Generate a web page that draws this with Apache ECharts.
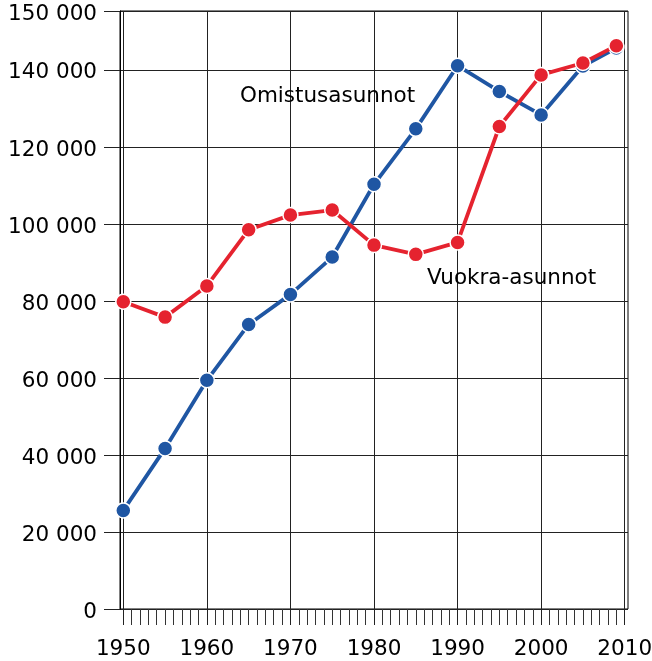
<!DOCTYPE html>
<html>
<head>
<meta charset="utf-8">
<script src="https://cdn.jsdelivr.net/npm/echarts@6/dist/echarts.min.js"></script>
<style>
html,body{margin:0;padding:0;background:#fff;}
#chart{width:652px;height:661px;}
</style>
</head>
<body>
<div id="chart"></div>
<script>
const years = [1950, 1955, 1960, 1965, 1970, 1975, 1980, 1985, 1990, 1995, 2000, 2005, 2009];
const omistusasunnot = [25600, 41700, 59400, 73900, 81700, 91400, 110300, 124700, 141100, 134400, 128300, 141000, 145700];
const vuokraasunnot = [79800, 75800, 83900, 98500, 102300, 103600, 94500, 92100, 95200, 125300, 138700, 141800, 146300];
const yTickLabels = ['0', '20 000', '40 000', '60 000', '80 000', '100 000', '120 000', '140 000', '150 000'];
const seriesNames = ['Omistusasunnot', 'Vuokra-asunnot'];
const yMax = 155300;

const FONT = 'Verdana, "DejaVu Sans", sans-serif';
const BLUE = '#1f56a3';
const RED = '#e5232f';

const chart = echarts.init(document.getElementById('chart'), null, {renderer: 'canvas'});

function pairs(xs, ys) { return xs.map((x, i) => [x, ys[i]]); }

const option = {
  animation: false,
  backgroundColor: '#fff',
  grid: [
    {left: 120, top: 11, width: 508, height: 598, show: true, borderColor: '#000', borderWidth: 1,
     backgroundColor: 'transparent', containLabel: false, outerBoundsMode: 'none'},
    {left: 123.3, top: 11, width: 501.4, height: 598, containLabel: false, outerBoundsMode: 'none'}
  ],
  xAxis: [
    {gridIndex: 0, type: 'value', min: 0, max: 1, show: false},
    {
      gridIndex: 1, type: 'value', min: 1950, max: 2010, interval: 10,
      axisLine: {show: false},
      axisTick: {show: true, length: 16, lineStyle: {color: '#222', width: 1}},
      minorTick: {show: true, splitNumber: 10, length: 16, lineStyle: {color: '#333', width: 1}},
      splitLine: {show: true, lineStyle: {color: '#222', width: 1}},
      axisLabel: {margin: 29, color: '#000', fontFamily: FONT, fontSize: 21.5,
                  formatter: function (v) { return String(v); }}
    }
  ],
  yAxis: [
    {
      gridIndex: 0, type: 'value', min: 0, max: yMax, interval: 20000,
      axisLine: {show: true, lineStyle: {color: '#000', width: 1}},
      axisTick: {show: true, length: 16, lineStyle: {color: '#222', width: 1}},
      splitLine: {show: true, lineStyle: {color: '#222', width: 1}},
      axisLabel: {
        margin: 23, color: '#000', fontFamily: FONT, fontSize: 21.5,
        formatter: function (v, i) { return yTickLabels[i] !== undefined ? '{a|' + yTickLabels[i] + '}' : ''; },
        rich: {a: {fontFamily: FONT, fontSize: 21.5, color: '#000', padding: [6, 0, 0, 0]}}
      }
    },
    {gridIndex: 1, type: 'value', min: 0, max: yMax, show: false}
  ],
  series: [
    {
      name: seriesNames[0], type: 'line', xAxisIndex: 1, yAxisIndex: 1,
      data: pairs(years, omistusasunnot),
      symbol: 'circle', symbolSize: 15,
      lineStyle: {color: BLUE, width: 3.8},
      itemStyle: {color: BLUE, borderColor: '#fff', borderWidth: 1.5},
      z: 3
    },
    {
      name: seriesNames[1], type: 'line', xAxisIndex: 1, yAxisIndex: 1,
      data: pairs(years, vuokraasunnot),
      symbol: 'circle', symbolSize: 15,
      lineStyle: {color: RED, width: 3.8},
      itemStyle: {color: RED, borderColor: '#fff', borderWidth: 1.5},
      z: 4
    }
  ],
  graphic: [
    {type: 'text', left: 240, top: 85, z: 10,
     style: {text: seriesNames[0], fill: '#000', font: '21.5px ' + FONT}},
    {type: 'text', left: 427, top: 267, z: 10,
     style: {text: seriesNames[1], fill: '#000', font: '21.5px ' + FONT}}
  ]
};
chart.setOption(option);
</script>
</body>
</html>
